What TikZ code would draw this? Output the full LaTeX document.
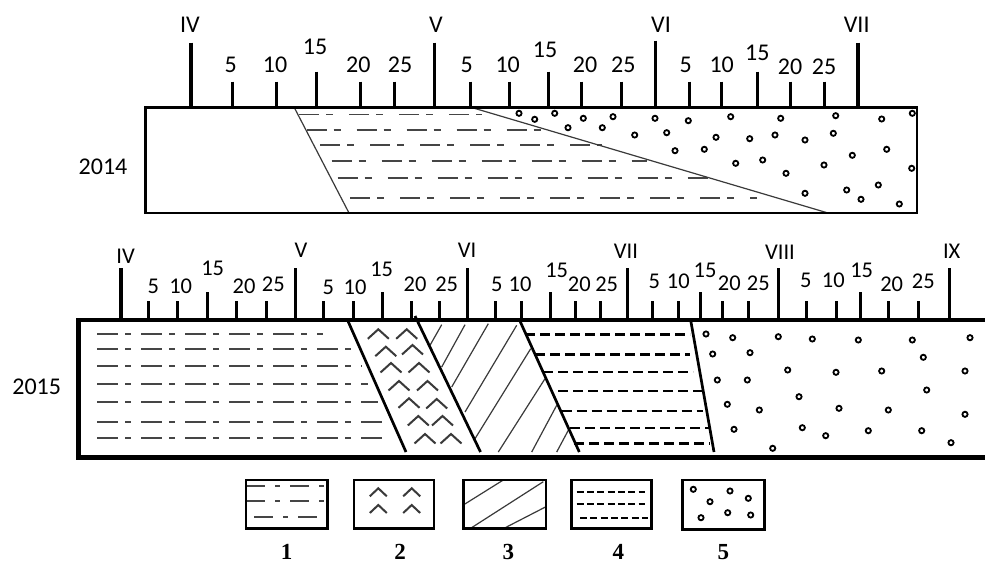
\documentclass[tikz,border=0pt]{standalone}
\usepackage{fontspec}
\setmainfont{Carlito}
\newfontfamily\legfont{Liberation Serif}
\definecolor{ddgray}{HTML}{454545}
\definecolor{hgray}{HTML}{3A3A3A}
\begin{document}
\begin{tikzpicture}[x=1pt,y=-1pt,
  lab/.style={font=\fontsize{24}{24}\selectfont, inner sep=0pt, text height=15.4pt, text depth=0pt},
  labb/.style={font=\fontsize{22.5}{22.5}\selectfont, inner sep=0pt, text height=14.4pt, text depth=0pt},
  legnum/.style={font=\legfont\bfseries\fontsize{23}{23}\selectfont, inner sep=0pt, text height=15.5pt, text depth=0pt},
  majtick/.style={line width=3.6pt},
  mintick/.style={line width=3pt},
  ddtop/.style={draw=ddgray, line width=1.8pt, dash pattern=on 20pt off 7pt on 7pt off 16pt},
  ddbot/.style={draw=ddgray, line width=2.1pt, dash pattern=on 21pt off 7pt on 6pt off 10pt},
  ddleg/.style={draw=ddgray, line width=2pt, dash pattern=on 19pt off 10pt on 5pt off 10pt},
  dsh/.style={draw=black, line width=2.3pt, dash pattern=on 10pt off 5pt},
  dshleg/.style={draw=black, line width=2.1pt, dash pattern=on 7pt off 3.3pt},
  circ/.style={draw=black, line width=1.8pt},
  chev/.style={draw=hgray, line width=2pt},
  hatch/.style={draw=hgray, line width=1.2pt},
  bound/.style={draw=black, line width=2.7pt},
  thin/.style={draw=hgray, line width=1.2pt},
  legbox/.style={draw=black, line width=2.5pt}
]
\useasboundingbox (0,0) rectangle (985,567);
\fill[white] (0,0) rectangle (985,567);

% ================= 2014 =================
\foreach \x/\t in {190.7/42.7, 434.3/42.7, 655.3/40.7, 857.7/42.7}
  \draw[majtick] (\x,\t) -- (\x,107);
\foreach \x in {232.7, 276, 360, 394, 470, 509.3, 581.3, 621.3, 689, 721.7, 790.7, 824.3}
  \draw[mintick] (\x,81.7) -- (\x,107);
\foreach \x in {316.7, 548.3, 757}
  \draw[mintick] (\x,71.7) -- (\x,107);
\foreach \x/\y/\t [count=\i] in {190/25/IV, 230.7/65/5, 275/65/10, 315/46.7/15, 358.3/65/20, 400/65/25,
  436/25/V, 466.7/65/5, 507.7/65/10, 545/50/15, 585/65/20, 623.3/65/25,
  661/25/VI, 685.7/65/5, 721.7/65/10, 757.3/52.7/15, 790/66.7/20, 824/66.7/25, 856.7/25/VII}
  \node[lab] (ta\i) at (\x,\y) {\t};
\node[lab] (y2014) at (103,166.7) {2014};

\foreach \y/\a/\b in {114.5/299/482, 130/306.7/548, 145/320/601.7, 161/331.7/646.7, 178/337.7/713, 198/350/756.7}
  \draw[ddtop] (\a,\y) -- (\b,\y);
\draw[thin] (294,107) -- (349,213);
\draw[thin] (470,107) -- (828,213);
\foreach \p in {(519,113.3),(534.7,119.3),(554.7,113.3),(583.3,118.3),(613,116.7),(568,127.7),(602.3,127.7),
  (634.7,135),(655,118.3),(666.7,132.7),(688.3,120.7),(675,150.7),(704.3,149.3),(716,137.3),(730.7,116.7),
  (749.7,138.7),(735.7,163.3),(762.7,160),(775,135),(780.7,118.3),(786,173.3),(805,140),(805,193.3),
  (824,165),(835.7,115.7),(833.3,133.3),(852.3,155.3),(881.7,119),(912.3,113.3),(886.7,149.3),
  (911.7,168.3),(878.3,185),(846.7,190),(861,199.3),(899.3,204)}
  \draw[circ] \p circle (2.6pt);
\draw[line width=2.5pt] (145.3,107.3) rectangle (917,213);

% ================= 2015 =================
\foreach \x in {120.7, 295.3, 467.3, 627.3, 778.3, 949.3}
  \draw[majtick] (\x,268) -- (\x,320);
\foreach \x in {148.3, 177.7, 236.3, 266, 323.7, 353.3, 411, 439.3, 495, 521.7, 575.7, 600, 652.7, 678.3, 722.3, 748.3, 806.7, 836, 888.3, 918.3}
  \draw[mintick] (\x,301) -- (\x,320);
\foreach \x in {207.7, 382.7, 550.7, 700.7, 860}
  \draw[mintick] (\x,292) -- (\x,320);
\foreach \x/\y/\t [count=\i] in {125.7/256.7/IV, 153.3/286.7/5, 180.7/286.7/10, 212.7/268.3/15, 244/286/20, 273.3/284/25,
  301/250.7/V, 328.3/287.3/5, 355/287/10, 381.7/269.3/15, 415/284/20, 446.7/284/25,
  467/250.7/VI, 496.7/284/5, 520/284/10, 556.7/270/15, 579.3/284/20, 606.7/284/25,
  626/251.7/VII, 654.3/281.7/5, 678.3/281.7/10, 705/270/15, 729.3/283.3/20, 758.3/283.3/25,
  780/252.7/VIII, 805.7/280/5, 833.3/280/10, 861.7/270/15, 891.7/284/20, 923.3/281.7/25, 951.7/251.7/IX}
  \node[labb] (tb\i) at (\x,\y) {\t};
\node[lab] (y2015) at (36.7,386.7) {2015};

\foreach \y/\b in {334/323.3, 349.3/353.3, 366/361.7, 384/368.3, 402.3/378.3, 421.7/383.3, 438.3/388.3}
  \draw[ddbot] (97.3,\y) -- (\b,\y);
\foreach \x/\y in {378.3/329.3, 406.7/329.3, 385.8/346.7, 412.5/345, 391/363, 419/363, 399/381, 427.5/381,
  409/398.3, 436.7/399, 418.3/416, 442.5/416, 425/434, 451/434}
  \draw[chev] (\x-10.5,\y+9.5) -- (\x,\y) -- (\x+10.5,\y+9.5);
\foreach \a/\b/\c/\d in {441.7/324.7/430/345.3, 465/324.7/441.7/367, 488.3/323.7/451.7/387, 516.7/325.3/465/412,
  530.7/348.7/475/438.7, 545/378.7/498.3/452, 556.7/405.3/531.7/452, 568.3/430.3/556.7/452}
  \draw[hatch] (\a,\b) -- (\c,\d);
\foreach \y/\a/\b in {334.5/525/690, 354.5/535/690, 372/543.3/693.3, 391.3/558.3/701.7, 410.7/561.7/703.3, 428/570/709.3, 443.5/574/710}
  \draw[dsh] (\a,\y) -- (\b,\y);
\foreach \p in {(706,334),(732.7,337.7),(778.3,336.7),(812.3,339),(858.3,340),(912.3,340),(970,337.7),
  (712.7,354),(750,352.7),(923.3,357.3),(787.7,370),(836,372.3),(881.7,371),(965,371),
  (717.3,380),(747.3,380),(926.7,390),(799,396.7),(727.3,404.3),(759.3,410),(839,408.3),(888.3,410),
  (965,414.3),(734,429.3),(802.3,427.7),(825.7,435.7),(868.3,430.7),(921.7,430.7),(951,442.7),(772.7,448.3)}
  \draw[circ] \p circle (2.6pt);
\draw[bound] (347.5,320) -- (406,452);
\draw[bound] (415,316) -- (480.5,452);
\draw[bound] (519.5,320) -- (579.3,452);
\draw[bound] (691,322) -- (714,452);
\draw[line width=4.6pt, line join=miter] (985,320) -- (78.3,320) -- (78.3,457.3) -- (985,457.3);

% ================= legend =================
\begin{scope}
\clip (246,480) rectangle (327.3,528.7);
\draw[ddleg] (246,485.7) -- (330,485.7);
\draw[ddleg] (246,501) -- (330,501);
\draw[ddleg, dash phase=-8pt] (246,516.7) -- (330,516.7);
\end{scope}
\draw[legbox] (246,480) rectangle (327.3,528.7);

\foreach \x/\y in {378.3/488.3, 411.7/488.3, 378.3/505, 411.7/505}
  \draw[chev] (\x-8.5,\y+8) -- (\x,\y) -- (\x+8.5,\y+8);
\draw[legbox] (354,480) rectangle (434,528.7);

\draw[hatch] (463.3,505) -- (503.3,480);
\draw[hatch] (470,528.7) -- (543.3,481.7);
\draw[hatch] (503.3,528.7) -- (546,506.7);
\draw[legbox] (463.3,480) rectangle (546,528.7);

\draw[dshleg] (576.7,491.7) -- (645,491.7);
\draw[dshleg] (576.7,504.3) -- (645,504.3);
\draw[dshleg] (580,518.3) -- (648,518.3);
\draw[legbox] (571.7,480) rectangle (651.7,528.7);

\foreach \p in {(693.3,489.3),(710,501.7),(730,491),(748.3,498.3),(701,517.7),(727.7,512.7),(750.7,515)}
  \draw[circ] \p circle (2.6pt);
\draw[legbox] (682.7,480) rectangle (764.3,529.5);

\foreach \x/\t [count=\i] in {286.7/1, 400/2, 508.3/3, 618.3/4, 723.3/5}
  \node[legnum] (leg\i) at (\x,551.7) {\t};
\end{tikzpicture}
\end{document}
